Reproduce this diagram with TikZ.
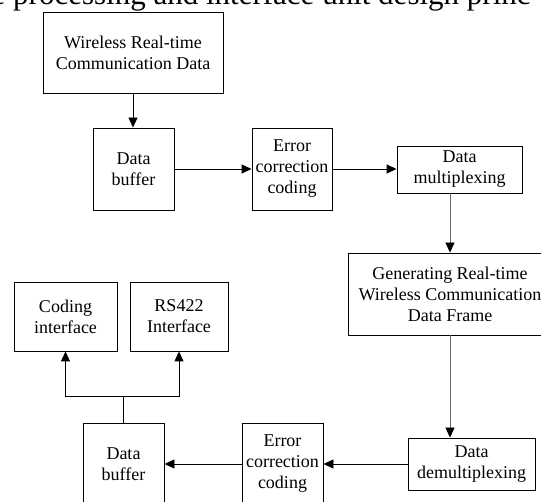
\documentclass[tikz,border=0pt]{standalone}
\usepackage{fontspec}
\setmainfont{Liberation Serif}
\usetikzlibrary{arrows.meta}
\begin{document}
\begin{tikzpicture}[x=1pt,y=-1pt,
  box/.style={draw=black, line width=0.9pt, inner sep=0pt, align=center, font=\fontsize{18}{21}\selectfont},
  arr/.style={-{Triangle[length=10pt,width=9pt,black]}, line width=0.9pt},
  grayarr/.style={arr, draw=black!60},
  ln/.style={line width=0.9pt}]
\useasboundingbox (0,0) rectangle (541,502);
\clip (0,0) rectangle (541,502);
\node[anchor=base west, inner sep=0pt, font=\fontsize{31}{31}\selectfont] (title) at (-8.5,5) {e processing and interface unit design princ};
\node[box, minimum width=180pt, minimum height=81pt] (wr) at (133,52.5) {Wireless Real-time\\Communication Data};
\node[box, minimum width=81pt, minimum height=82pt] (b1) at (133.5,169) {Data\\buffer};
\node[box, minimum width=80pt, minimum height=82pt] (e1) at (292,169) {Error\\correction\\coding};
\node[box, minimum width=125pt, minimum height=47pt] (mux) at (459.5,169.5) {Data\\multiplexing};
\node[box, minimum width=204pt, minimum height=82pt] (gen) at (450,294) {Generating Real-time\\Wireless Communication\\Data Frame};
\node[box, minimum width=127pt, minimum height=52pt] (dm) at (471.5,464) {Data\\demultiplexing};
\node[box, minimum width=81pt, minimum height=82pt] (e2) at (282.5,464) {Error\\correction\\coding};
\node[box, minimum width=81pt, minimum height=82pt] (b2) at (123.5,464) {Data\\buffer};
\node[box, minimum width=103pt, minimum height=69pt] (ci) at (65.5,316.5) {Coding\\interface};
\node[box, minimum width=98pt, minimum height=69pt] (rs) at (179,316.5) {RS422\\Interface};
\coordinate (jn) at (123.5,396);
\draw[arr] (wr.south) -- (wr.south |- b1.north);
\draw[arr] (b1.east) -- (e1.west);
\draw[arr] (e1.east) -- (e1.east -| mux.west);
\draw[grayarr] (mux.south -| gen.north) -- (gen.north);
\draw[grayarr] (gen.south) -- (gen.south |- dm.north);
\draw[arr] (dm.west) -- (dm.west -| e2.east);
\draw[arr] (e2.west) -- (b2.east);
\draw[ln] (b2.north) -- (jn);
\draw[arr] (jn) -| (ci.south);
\draw[arr] (jn) -| (rs.south);
\end{tikzpicture}
\end{document}
